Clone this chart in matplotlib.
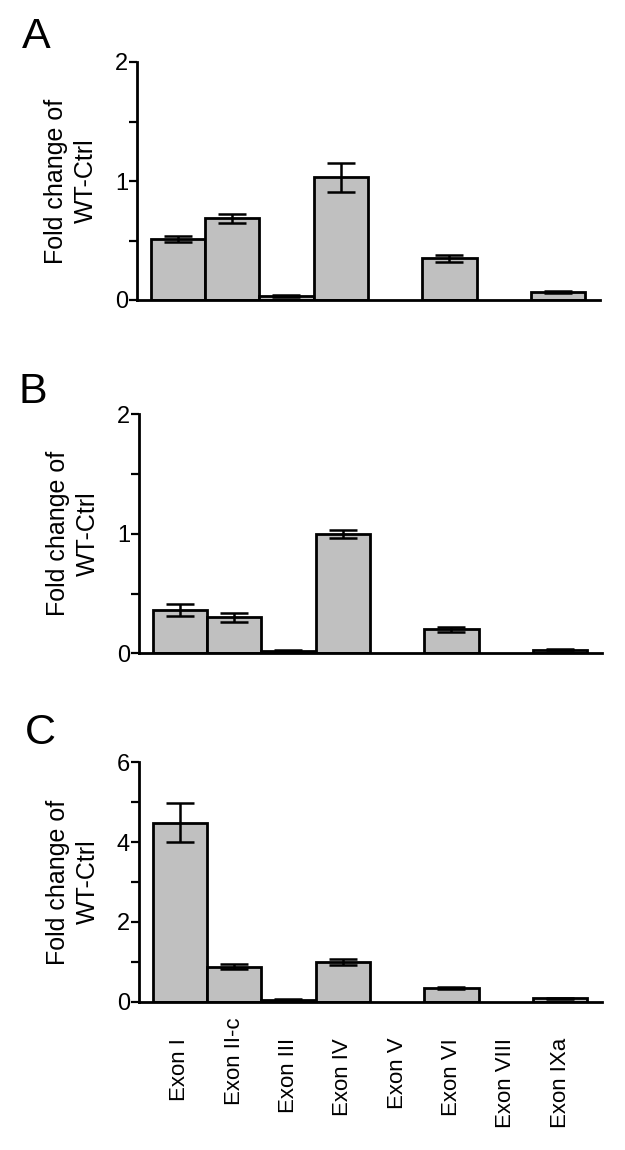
import numpy as np
import matplotlib
matplotlib.use("Agg")
from matplotlib import pyplot as plt
from matplotlib.transforms import ScaledTranslation

plt.rcParams['font.family'] = ['Liberation Sans', 'DejaVu Sans']

# exon categories (Exon V and Exon VIII have no bar)
exons = ["Exon I", "Exon II-c", "Exon III", "Exon IV", "Exon V", "Exon VI", "Exon VIII", "Exon IXa"]

# panel A
mean_a = [0.51, 0.685, 0.03, 1.03, np.nan, 0.35, np.nan, 0.065]
sem_a = [0.025, 0.04, 0.008, 0.125, np.nan, 0.03, np.nan, 0.01]
# panel B
mean_b = [0.36, 0.30, 0.02, 1.00, np.nan, 0.20, np.nan, 0.03]
sem_b = [0.05, 0.035, 0.005, 0.035, np.nan, 0.02, np.nan, 0.005]
# panel C
mean_c = [4.49, 0.88, 0.05, 1.00, np.nan, 0.34, np.nan, 0.085]
sem_c = [0.48, 0.07, 0.02, 0.07, np.nan, 0.03, np.nan, 0.01]

W, H = 625, 1150
fig = plt.figure(figsize=(W / 100, H / 100), dpi=100)

def px_axes(left, right, y0, ytop):
    # pixel box -> figure fraction
    return fig.add_axes([left / W, 1 - y0 / H, (right - left) / W, (y0 - ytop) / H])

def draw_panel(ax, means, sems, ymax, major, minor, show_x):
    x = np.arange(len(exons))
    m = np.array(means, dtype=float)
    s = np.array(sems, dtype=float)
    ok = ~np.isnan(m)
    ax.bar(x[ok], m[ok], width=1.0, color='#c0c0c0', edgecolor='black', linewidth=2.0, zorder=2)
    ax.errorbar(x[ok], m[ok], yerr=s[ok], fmt='none', ecolor='black',
                elinewidth=1.8, capsize=10, capthick=1.8, zorder=3)
    ax.set_xlim(-0.75, 7.77)
    ax.set_ylim(0, ymax)
    ax.set_yticks(major)
    ax.set_yticks(minor, minor=True)
    ax.set_yticklabels([str(v) for v in major])
    for sp in ['top', 'right']:
        ax.spines[sp].set_visible(False)
    for sp in ['left', 'bottom']:
        ax.spines[sp].set_linewidth(2.0)
    ax.tick_params(axis='y', which='both', direction='out', length=5.5, width=1.6,
                   labelsize=17, pad=1)
    ax.set_ylabel("Fold change of\nWT-Ctrl", fontsize=18, linespacing=1.3)
    ax.yaxis.set_label_coords(-0.085, 0.5)
    ax.set_xticks(x)
    if show_x:
        ax.set_xticklabels(exons, rotation=90, fontsize=16, va='top', ha='center')
        ax.tick_params(axis='x', length=0, pad=26)
    else:
        ax.set_xticklabels([])
        ax.tick_params(axis='x', length=0)

ax_a = px_axes(137, 600, 300, 62)
draw_panel(ax_a, mean_a, sem_a, 2, [0, 1, 2], [0.5, 1.5], False)

ax_b = px_axes(139, 602, 653.3, 414.3)
draw_panel(ax_b, mean_b, sem_b, 2, [0, 1, 2], [0.5, 1.5], False)

ax_c = px_axes(139, 602, 1001.7, 762.3)
draw_panel(ax_c, mean_c, sem_c, 6, [0, 2, 4, 6], [1, 3, 5], True)

# Exon II-c label sits a little higher in the original
for lab in ax_c.get_xticklabels():
    if lab.get_text() == "Exon II-c":
        lab.set_transform(lab.get_transform() + ScaledTranslation(0, 0.2, fig.dpi_scale_trans))

# panel letters
for letter, (lx, ly) in zip("ABC", [(22, 17), (18, 372), (25, 713)]):
    fig.text(lx / W, 1 - ly / H, letter, fontsize=31, ha='left', va='top')

fig.savefig("out.png", dpi=100)
